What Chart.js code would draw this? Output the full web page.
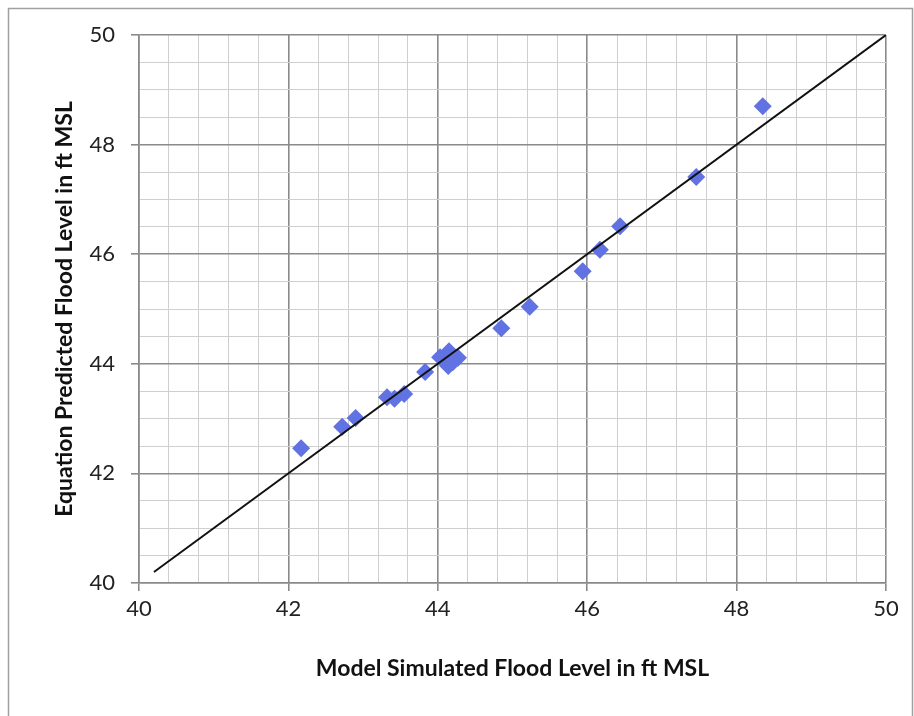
<!DOCTYPE html>
<html>
<head>
<meta charset="utf-8">
<script src="https://cdn.jsdelivr.net/npm/chart.js@4/dist/chart.umd.min.js"></script>
<style>
  html, body { margin: 0; padding: 0; background: #fff; }
  #wrap { width: 914px; height: 716px; position: relative; }
</style>
</head>
<body>
<div id="wrap"><canvas id="chart" width="914" height="716"></canvas></div>
<script>
// values (model simulated vs equation predicted, ft MSL)
const modelLevels = [42.17, 42.72, 42.90, 43.32, 43.42, 43.55, 43.83, 44.03, 44.15, 44.14, 44.27, 44.20, 44.85, 45.23, 45.94, 46.17, 46.44, 47.46, 48.35];
const predictedLevels = [42.46, 42.85, 43.01, 43.39, 43.36, 43.45, 43.85, 44.12, 44.23, 43.96, 44.11, 44.03, 44.65, 45.04, 45.69, 46.08, 46.51, 47.41, 48.70];

// the 1:1 line
const lineX = [40.2, 50];
const lineY = [40.2, 50];

// axis ticks
const xTickLabels = [40, 42, 44, 46, 48, 50];
const yTickLabels = [40, 42, 44, 46, 48, 50];
const xMinorStep = 0.4;
const yMinorStep = 0.5;

const fontFamily = 'Lato, "Open Sans", sans-serif';

// builds the list of gridline values, majors + minors
function gridValues(majors, step) {
  const vals = [];
  const lo = majors[0], hi = majors[majors.length - 1];
  const n = Math.round((hi - lo) / step);
  for (let i = 0; i <= n; i++) vals.push({ value: +(lo + i * step).toFixed(4) });
  return vals;
}

function isMajor(v, majors) {
  return majors.some(m => Math.abs(m - v) < 1e-6);
}

const points = modelLevels.map((x, i) => ({ x: x, y: predictedLevels[i] }));
const linePts = lineX.map((x, i) => ({ x: x, y: lineY[i] }));

// light frame round the whole picture
const framePlugin = {
  id: 'frame',
  beforeDraw(chart) {
    const c = chart.ctx;
    c.save();
    c.fillStyle = '#fff';
    c.fillRect(0, 0, chart.width, chart.height);
    c.strokeStyle = '#a0a0a0';
    c.lineWidth = 1.5;
    c.strokeRect(8.5, 8.5, 904, 730);
    c.restore();
  }
};

function gridColor(majors) {
  return ctx => isMajor(ctx.tick.value, majors) ? '#8a8a8a' : '#cfcfcf';
}
function gridWidth(majors) {
  return ctx => isMajor(ctx.tick.value, majors) ? 1.6 : 1;
}

new Chart(document.getElementById('chart'), {
  type: 'scatter',
  data: {
    datasets: [
      {
        type: 'line',
        data: linePts,
        borderColor: '#111',
        borderWidth: 2,
        pointRadius: 0,
        fill: false,
        order: 1
      },
      {
        data: points,
        pointStyle: 'rectRot',
        pointRadius: 9,
        backgroundColor: '#6172e2',
        borderColor: '#6172e2',
        borderWidth: 0,
        order: 2
      }
    ]
  },
  options: {
    responsive: false,
    animation: false,
    layout: { padding: { left: 8, top: 35, right: 28, bottom: 8 } },
    plugins: { legend: { display: false }, tooltip: { enabled: false } },
    scales: {
      x: {
        type: 'linear',
        min: 40, max: 50,
        afterBuildTicks: s => { s.ticks = gridValues(xTickLabels, xMinorStep); },
        afterFit: s => { s.height = 125; },
        border: { color: '#8a8a8a', width: 1.6 },
        grid: {
          color: gridColor(xTickLabels),
          lineWidth: gridWidth(xTickLabels),
          tickLength: 8,
          tickColor: ctx => isMajor(ctx.tick.value, xTickLabels) ? '#8a8a8a' : 'rgba(0,0,0,0)'
        },
        ticks: {
          autoSkip: false,
          maxRotation: 0,
          padding: 5,
          color: '#222',
          font: { family: fontFamily, size: 22 },
          callback: v => isMajor(v, xTickLabels) ? String(Math.round(v)) : ''
        },
        title: {
          display: true,
          text: 'Model Simulated Flood Level in ft MSL',
          color: '#111',
          font: { family: fontFamily, size: 23, weight: 'bold' },
          padding: { top: 0, bottom: 26 }
        }
      },
      y: {
        type: 'linear',
        min: 40, max: 50,
        afterBuildTicks: s => { s.ticks = gridValues(yTickLabels, yMinorStep); },
        afterFit: s => { s.width = 131; },
        border: { color: '#8a8a8a', width: 1.6 },
        grid: {
          color: gridColor(yTickLabels),
          lineWidth: gridWidth(yTickLabels),
          tickLength: 8,
          tickColor: ctx => isMajor(ctx.tick.value, yTickLabels) ? '#8a8a8a' : 'rgba(0,0,0,0)'
        },
        ticks: {
          autoSkip: false,
          padding: 16,
          color: '#222',
          font: { family: fontFamily, size: 22 },
          callback: v => isMajor(v, yTickLabels) ? String(Math.round(v)) : ''
        },
        title: {
          display: true,
          text: 'Equation Predicted Flood Level in ft MSL',
          color: '#111',
          font: { family: fontFamily, size: 23, weight: 'bold' },
          padding: { top: 43, bottom: 0 }
        }
      }
    }
  },
  plugins: [framePlugin]
});
</script>
</body>
</html>
